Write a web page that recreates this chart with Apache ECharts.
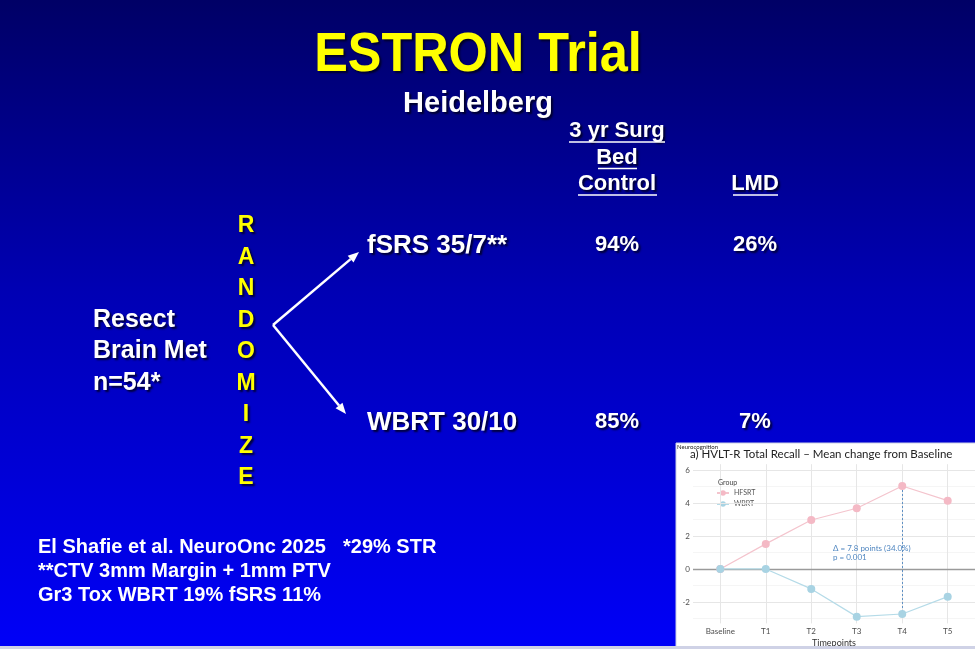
<!DOCTYPE html>
<html><head><meta charset="utf-8">
<script src="https://cdn.jsdelivr.net/npm/echarts@6/dist/echarts.min.js"></script>
<style>html,body{margin:0;padding:0;background:#00009a;overflow:hidden}#c{width:975px;height:649px}</style>
</head><body><div id="c"></div>
<script>
// ---- data ----
const timepoints = ['Baseline', 'T1', 'T2', 'T3', 'T4', 'T5'];
const hfsrt = [0, 1.52, 2.97, 3.68, 5.03, 4.14];
const wbrt = [0, 0, -1.21, -2.89, -2.73, -1.68];
const yTicks = [-2, 0, 2, 4, 6];
const yMinor = [-3, -1, 1, 3, 5];
const groups = ['HFSRT', 'WBRT'];
const arms = ['fSRS 35/7**', 'WBRT 30/10'];
const bedControl = ['94%', '85%'];
const lmdRate = ['26%', '7%'];
const colHeads1 = ['3 yr Surg', 'Bed', 'Control'];
const colHead2 = 'LMD';
const leftLines = ['Resect', 'Brain Met', 'n=54*'];
const randomizeWord = 'RANDOMIZE';
const footLines = ['El Shafie et al. NeuroOnc 2025', '**CTV 3mm Margin + 1mm PTV', 'Gr3 Tox WBRT 19% fSRS 11%'];
const footNote = '*29% STR';
const deltaNote = ['\u0394 = 7.8 points (34.0%)', 'p = 0.001'];

const SF = '"Liberation Sans", Arial, sans-serif';
const PF = 'Lato, "Open Sans", sans-serif';
const SH = {textShadowColor: 'rgba(0,0,30,0.85)', textShadowBlur: 2, textShadowOffsetX: 2, textShadowOffsetY: 2};

function txt(x, y, text, size, color, align, extra) {
  return {type: 'text', x: x, y: y, z: 10, silent: true,
    style: Object.assign({text: text, font: 'bold ' + size + 'px ' + SF, fill: color,
      align: align || 'left', verticalAlign: 'middle'}, SH, extra || {})};
}
function hline(x1, x2, y, color, w, z) {
  return {type: 'line', z: z || 10, silent: true, shape: {x1: x1, y1: y, x2: x2, y2: y}, style: {stroke: color, lineWidth: w}};
}
function arrow(x1, y1, x2, y2) {
  const a = Math.atan2(y2 - y1, x2 - x1), L = 11, W = 4.5;
  const bx = x2 - L * Math.cos(a), by = y2 - L * Math.sin(a);
  return [
    {type: 'line', z: 10, silent: true, shape: {x1: x1, y1: y1, x2: bx, y2: by}, style: {stroke: '#fff', lineWidth: 2.5}},
    {type: 'polygon', z: 10, silent: true, shape: {points: [[x2, y2], [bx - W * Math.sin(a), by + W * Math.cos(a)], [bx + W * Math.sin(a), by - W * Math.cos(a)]]}, style: {fill: '#fff'}}
  ];
}

const g = [];
// title
g.push(Object.assign(txt(478, 56, 'ESTRON Trial', 56, '#ffff00', 'center'), {scaleX: 0.9}));
g.push(txt(478, 104, 'Heidelberg', 29, '#ffffff', 'center'));
// column heads
colHeads1.forEach((t, i) => {
  const y = 131 + i * 26.5;
  g.push(txt(617, y, t, 22, '#ffffff', 'center'));
});
g.push(txt(755, 184, colHead2, 22, '#ffffff', 'center'));
g.push(hline(569, 665, 142, '#ffffff', 1.6));
g.push(hline(598, 637, 168.5, '#ffffff', 1.6));
g.push(hline(578, 657, 195, '#ffffff', 1.6));
g.push(hline(733, 778, 195, '#ffffff', 1.6));
// arms and values
arms.forEach((t, i) => {
  const y = i === 0 ? 246 : 423;
  g.push(txt(367, y, t, 26, '#ffffff', 'left'));
  g.push(txt(617, y - 1.5, bedControl[i], 22, '#ffffff', 'center'));
  g.push(txt(755, y - 1.5, lmdRate[i], 22, '#ffffff', 'center'));
});
// left block
leftLines.forEach((t, i) => g.push(txt(93, 320 + i * 31.5, t, 25, '#ffffff', 'left')));
// RANDOMIZE
randomizeWord.split('').forEach((ch, i) => g.push(txt(246, 226 + i * 31.5, ch, 23, '#ffff00', 'center')));
// arrows
arrow(273, 325, 359, 252).forEach(e => g.push(e));
arrow(273, 325, 346, 414).forEach(e => g.push(e));
// footer
footLines.forEach((t, i) => g.push(txt(38, 547 + i * 24, t, 20, '#ffffff', 'left', {textShadowColor: 'rgba(0,0,0,0)'})));
g.push(txt(343, 547, footNote, 20, '#ffffff', 'left', {textShadowColor: 'rgba(0,0,0,0)'}));
// bottom strip
g.push({type: 'rect', z: 1, silent: true, shape: {x: 0, y: 646, width: 975, height: 3}, style: {fill: '#cfd2e6'}});
// inset box
g.push({type: 'rect', z: -1, silent: true, shape: {x: 676, y: 443, width: 300, height: 204}, style: {fill: '#ffffff', stroke: '#c9cfe6', lineWidth: 1}});
g.push({type: 'text', z: 10, silent: true, x: 677, y: 447, style: {text: 'Neurocognition', font: '6px ' + PF, fill: '#222', verticalAlign: 'middle'}});
g.push({type: 'text', z: 10, silent: true, x: 690, y: 454, style: {text: 'a) HVLT-R Total Recall \u2013 Mean change from Baseline', font: '11.5px ' + PF, fill: '#222', verticalAlign: 'middle'}});
g.push({type: 'text', z: 10, silent: true, x: 718, y: 483, style: {text: 'Group', font: '7px ' + PF, fill: '#444', verticalAlign: 'middle'}});
deltaNote.forEach((t, i) => g.push({type: 'text', z: 10, silent: true, x: 833, y: 548 + i * 9.5,
  style: {text: t, font: '8px ' + PF, fill: '#4f86c0', verticalAlign: 'middle'}}));

const gridLines = [];
yMinor.forEach(v => gridLines.push({yAxis: v, lineStyle: {color: '#f3f3f3', width: 0.8, type: 'solid'}}));
yTicks.forEach(v => gridLines.push({yAxis: v, lineStyle: {color: '#e6e6e6', width: 1, type: 'solid'}}));
timepoints.forEach((t, i) => gridLines.push({xAxis: i, lineStyle: {color: '#e6e6e6', width: 1, type: 'solid'}}));
gridLines.push({yAxis: 0, lineStyle: {color: '#9a9a9a', width: 1.3, type: 'solid'}});

const option = {
  animation: false,
  backgroundColor: new echarts.graphic.LinearGradient(0, 0, 0, 1, [
    {offset: 0, color: '#000066'}, {offset: 0.45, color: '#0000b4'}, {offset: 1, color: '#0000f8'}
  ]),
  graphic: g,
  grid: {left: 693, top: 464.2, width: 302.6, height: 159.2, containLabel: false},
  legend: {data: groups, orient: 'vertical', left: 716, top: 489, itemWidth: 12, itemHeight: 7, itemGap: 3, padding: 0,
    textStyle: {fontSize: 7, lineHeight: 8, color: '#555', fontFamily: PF}},
  xAxis: {type: 'value', min: -0.6, max: 5.6, minInterval: 1, maxInterval: 1,
    axisLine: {show: false}, axisTick: {show: false}, splitLine: {show: false},
    axisLabel: {showMinLabel: false, showMaxLabel: false, margin: 4, fontSize: 8, color: '#4d4d4d', fontFamily: PF,
      formatter: v => (Number.isInteger(v) && v >= 0 && v < timepoints.length) ? timepoints[v] : ''},
    name: 'Timepoints', nameLocation: 'middle', nameGap: 15,
    nameTextStyle: {fontSize: 9, color: '#333', fontFamily: PF}},
  yAxis: {type: 'value', min: -3.3, max: 6.35, minInterval: 2, maxInterval: 2,
    axisLine: {show: false}, axisTick: {show: false}, splitLine: {show: false},
    axisLabel: {showMinLabel: false, showMaxLabel: false, margin: 3, fontSize: 8, color: '#4d4d4d', fontFamily: PF,
      formatter: v => yTicks.includes(v) ? String(v) : ''}},
  series: [
    {name: 'gridlines', type: 'line', z: 1, silent: true, data: hfsrt.map((v, i) => [i, v]),
      showSymbol: false, lineStyle: {opacity: 0}, tooltip: {show: false},
      markLine: {silent: true, symbol: 'none', label: {show: false}, data: gridLines}},
    {name: groups[0], type: 'line', z: 5, data: hfsrt.map((v, i) => [i, v]), symbol: 'circle', symbolSize: 8,
      itemStyle: {color: '#f4b9c5'}, lineStyle: {color: '#f4c4cd', width: 1.2}},
    {name: groups[1], type: 'line', z: 5, data: wbrt.map((v, i) => [i, v]), symbol: 'circle', symbolSize: 8,
      itemStyle: {color: '#a8d3e3'}, lineStyle: {color: '#b5dbe8', width: 1.2},
      markLine: {silent: true, symbol: 'none', label: {show: false},
        lineStyle: {color: '#4f86c0', width: 0.9, type: [2, 2]},
        data: [[{coord: [4, hfsrt[4]]}, {coord: [4, wbrt[4]]}]]}}
  ]
};
const chart = echarts.init(document.getElementById('c'));
chart.setOption(option);
</script>
</body></html>
